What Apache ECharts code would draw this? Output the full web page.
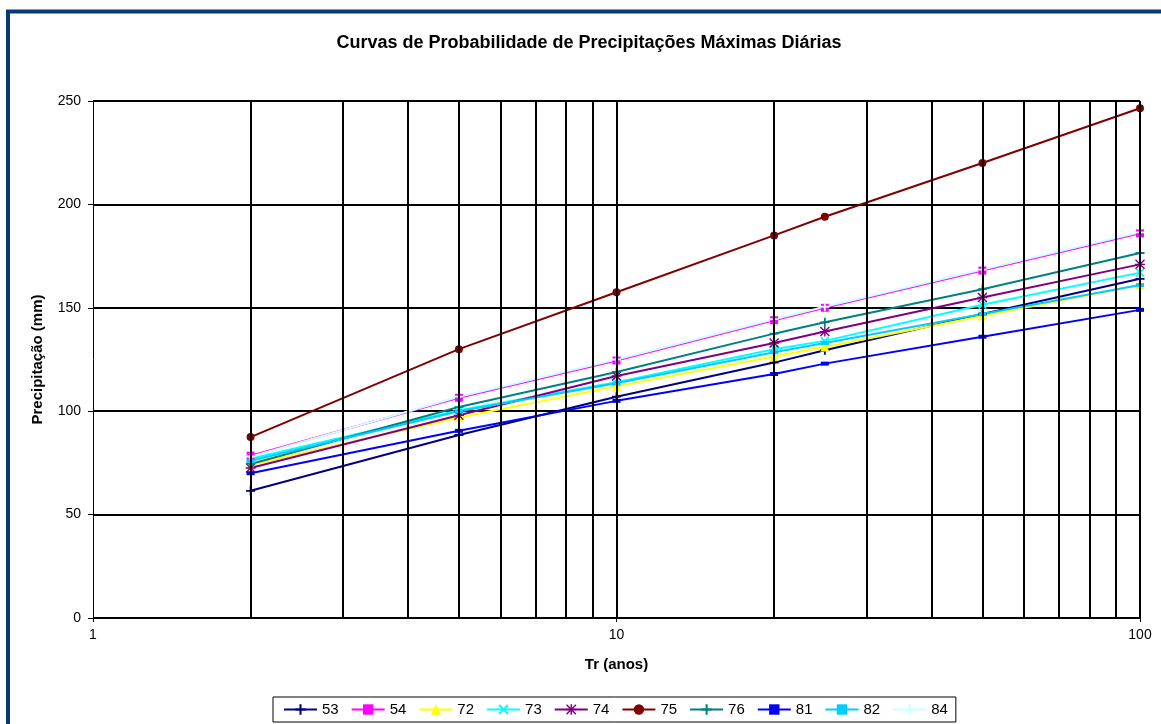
<!DOCTYPE html>
<html>
<head>
<meta charset="utf-8">
<style>
  html, body { margin: 0; padding: 0; background: #fff; }
  #chart { width: 1161px; height: 724px; }
</style>
<script src="https://cdn.jsdelivr.net/npm/echarts@6/dist/echarts.min.js"></script>
</head>
<body>
<div id="chart"></div>
<script>
// Return periods (years)
const returnPeriods = [2, 5, 10, 20, 25, 50, 100];

// Maximum daily precipitation (mm) per station
const s53 = [61.5, 88.5, 107, 123.5, 129.5, 147, 164];
const s54 = [78.5, 106.5, 124.5, 144, 150, 168, 186];
const s72 = [74, 97, 112, 126.5, 131, 146, 161];
const s73 = [77, 100.5, 114, 130, 134, 151.5, 167];
const s74 = [72.5, 98, 117, 133, 138.5, 155, 171];
const s75 = [87.5, 130, 157.5, 185, 194, 220, 246.5];
const s76 = [74.5, 102, 119, 137.5, 143, 159, 176.5];
const s81 = [70, 90.5, 105, 118, 123, 136, 149];
const s82 = [76, 100, 113.5, 128.5, 133, 147, 161];
const s84 = [78, 107, 125, 144.5, 150.5, 168.5, 186.5];

// Vertical grid positions on the log axis
const logGrid = [2, 3, 4, 5, 6, 7, 8, 9, 10, 20, 30, 40, 50, 60, 70, 80, 90, 100];

const yTicks = { min: 0, max: 250, interval: 50 };

// Marker shapes
const PLUS = 'path://M4,0H6V4H10V6H6V10H4V6H0V4H4Z';
const CROSS = 'path://M1.4,0L5,3.6L8.6,0L10,1.4L6.4,5L10,8.6L8.6,10L5,6.4L1.4,10L0,8.6L3.6,5L0,1.4Z';
const STAR = 'path://M4.3,0H5.7V10H4.3Z M0,4.3H10V5.7H0Z M1,0L5,4L9,0L10,1L6,5L10,9L9,10L5,6L1,10L0,9L4,5L0,1Z';

const stations = [
  { name: '53', data: s53, color: '#000080', symbol: PLUS, size: 9 },
  { name: '54', data: s54, color: '#FF00FF', symbol: 'rect', size: 8 },
  { name: '72', data: s72, color: '#FFFF00', symbol: 'triangle', size: 9 },
  { name: '73', data: s73, color: '#00FFFF', symbol: CROSS, size: 9 },
  { name: '74', data: s74, color: '#800080', symbol: STAR, size: 10 },
  { name: '75', data: s75, color: '#800000', symbol: 'circle', size: 8 },
  { name: '76', data: s76, color: '#008080', symbol: PLUS, size: 9 },
  { name: '81', data: s81, color: '#0000FF', symbol: 'rect', size: [8, 4] },
  { name: '82', data: s82, color: '#00CCFF', symbol: 'rect', size: [8, 4] },
  { name: '84', data: s84, color: '#CCFFFF', symbol: PLUS, size: 9 }
];

const FONT = 'Arial, "Liberation Sans", sans-serif';

const chart = echarts.init(document.getElementById('chart'), null, { renderer: 'canvas' });

const series = [
  {
    name: 'grid',
    type: 'line',
    data: [],
    z: 1,
    silent: true,
    markLine: {
      silent: true,
      symbol: 'none',
      animation: false,
      label: { show: false },
      lineStyle: { color: '#000', width: 2, type: 'solid' },
      data: logGrid.map(v => ({ xAxis: v }))
    }
  }
].concat(stations.map(s => ({
  name: s.name,
  type: 'line',
  z: 3,
  data: returnPeriods.map((t, i) => [t, s.data[i]]),
  symbol: s.symbol,
  symbolSize: s.size,
  showSymbol: true,
  lineStyle: { color: s.color, width: 2 },
  itemStyle: { color: s.color },
  animation: false
})));

chart.setOption({
  backgroundColor: '#fff',
  animation: false,
  textStyle: { fontFamily: FONT },
  graphic: [
    {
      type: 'rect',
      shape: { x: 8, y: 11.5, width: 1200, height: 800 },
      style: { fill: 'none', stroke: '#073b70', lineWidth: 4 },
      silent: true,
      z: 0
    },
    {
      type: 'text',
      x: 589,
      y: 43,
      style: {
        text: 'Curvas de Probabilidade de Precipitações Máximas Diárias',
        font: 'bold 18px ' + FONT,
        fill: '#000',
        align: 'center',
        verticalAlign: 'middle'
      }
    }
  ],
  grid: { left: 93, right: 21, top: 101, bottom: 106, containLabel: false },
  legend: {
    data: stations.map(s => s.name),
    left: 273,
    top: 697,
    orient: 'horizontal',
    itemWidth: 33,
    itemHeight: 13,
    itemGap: 12,
    padding: [5, 8, 5, 10],
    borderColor: '#000',
    borderWidth: 1,
    textStyle: { color: '#000', fontSize: 15, fontFamily: FONT }
  },
  xAxis: {
    type: 'log',
    logBase: 10,
    min: 1,
    max: 100,
    name: 'Tr (anos)',
    nameLocation: 'middle',
    nameGap: 39,
    nameTextStyle: { fontWeight: 'bold', fontSize: 15, color: '#000' },
    axisLine: { show: true, lineStyle: { color: '#000', width: 1 } },
    axisTick: { show: true, length: 4, lineStyle: { color: '#000' } },
    axisLabel: { color: '#000', fontSize: 14, margin: 10 },
    splitLine: { show: false },
    minorTick: { show: false },
    minorSplitLine: { show: false }
  },
  yAxis: {
    type: 'value',
    min: yTicks.min,
    max: yTicks.max,
    interval: yTicks.interval,
    name: 'Precipitação (mm)',
    nameLocation: 'middle',
    nameGap: 48,
    nameTextStyle: { fontWeight: 'bold', fontSize: 15, color: '#000' },
    axisLine: { show: true, lineStyle: { color: '#000', width: 1 } },
    axisTick: { show: true, length: 5, lineStyle: { color: '#000' } },
    axisLabel: { color: '#000', fontSize: 14, margin: 12 },
    splitLine: { show: true, lineStyle: { color: '#000', width: 2 } }
  },
  series: series
});
</script>
</body>
</html>
